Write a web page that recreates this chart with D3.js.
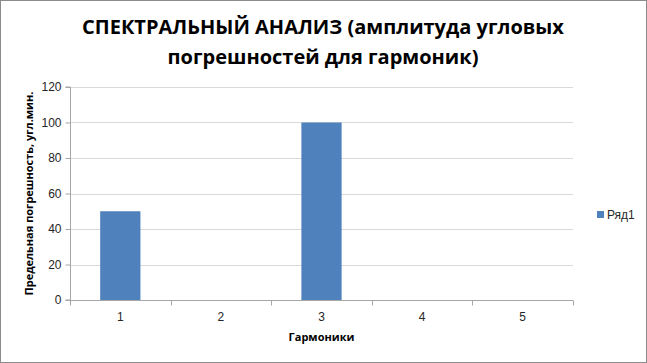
<!DOCTYPE html>
<html>
<head>
<meta charset="utf-8">
<script src="https://cdn.jsdelivr.net/npm/d3@7"></script>
<style>
  body { margin: 0; background: #fff; }
  svg { display: block; }
</style>
</head>
<body>
<div id="chart"></div>
<script>
// chart values
const categories = ["1", "2", "3", "4", "5"];
const values = [50, 0, 100, 0, 0];
const yTicks = [0, 20, 40, 60, 80, 100, 120];
const seriesName = "Ряд1";
const titleLines = ["СПЕКТРАЛЬНЫЙ АНАЛИЗ (амплитуда угловых", "погрешностей для гармоник)"];
const xTitle = "Гармоники";
const yTitle = "Предельная погрешность, угл.мин.";

const width = 647, height = 363;
const margin = { top: 87, right: 74, bottom: 63, left: 70 };
const barColor = "#4f81bd";

const svg = d3.select("#chart").append("svg")
  .attr("width", width)
  .attr("height", height);

// outer frame
svg.append("rect")
  .attr("x", 0.5).attr("y", 0.5)
  .attr("width", width - 1).attr("height", height - 1)
  .attr("fill", "#fff")
  .attr("stroke", "#8c8c8c");

const x = d3.scaleBand()
  .domain(categories)
  .range([margin.left, width - margin.right])
  .paddingInner(0.6)
  .paddingOuter(0.3);

const xEdge = d3.scaleLinear()
  .domain([0, categories.length])
  .range([margin.left, width - margin.right]);

const y = d3.scaleLinear()
  .domain([0, 120])
  .range([height - margin.bottom, margin.top]);

// gridlines
svg.append("g")
  .selectAll("line")
  .data(yTicks.filter(d => d > 0))
  .enter().append("line")
  .attr("x1", margin.left).attr("x2", width - margin.right)
  .attr("y1", d => Math.round(y(d)) + 0.5)
  .attr("y2", d => Math.round(y(d)) + 0.5)
  .attr("stroke", "#d9d9d9");

// bars
svg.append("g")
  .selectAll("rect")
  .data(values)
  .enter().append("rect")
  .attr("x", (d, i) => x(categories[i]))
  .attr("y", d => y(d))
  .attr("width", x.bandwidth())
  .attr("height", d => y(0) - y(d))
  .attr("fill", barColor);

// y axis
const yAxis = svg.append("g")
  .attr("transform", "translate(" + (margin.left + 0.5) + ",0)")
  .call(d3.axisLeft(y).tickValues(yTicks).tickSize(5).tickPadding(4));
yAxis.selectAll("text")
  .attr("font-family", "Liberation Sans, Arial, sans-serif")
  .attr("font-size", 12)
  .attr("fill", "#262626");

// x axis
const xAxis = svg.append("g")
  .attr("transform", "translate(0," + (Math.round(y(0)) + 0.5) + ")")
  .call(d3.axisBottom(x).tickSize(0).tickPadding(12));
xAxis.selectAll("text")
  .attr("font-family", "Liberation Sans, Arial, sans-serif")
  .attr("font-size", 12)
  .attr("fill", "#262626");
xAxis.selectAll(".edge")
  .data(d3.range(categories.length + 1))
  .enter().append("line")
  .attr("class", "edge")
  .attr("x1", d => Math.round(xEdge(d)) + 0.5)
  .attr("x2", d => Math.round(xEdge(d)) + 0.5)
  .attr("y1", 0).attr("y2", 5)
  .attr("stroke", "#a6a6a6");

svg.selectAll(".domain").attr("stroke", "#a6a6a6");
yAxis.selectAll(".tick line").attr("stroke", "#a6a6a6");
yAxis.select(".domain").attr("d", "M-5," + y(120) + "H0V" + y(0) + "H-5");
xAxis.select(".domain").attr("d", "M" + margin.left + ",0H" + (width - margin.right));

// title
svg.append("g")
  .selectAll("text")
  .data(titleLines)
  .enter().append("text")
  .attr("x", 323)
  .attr("y", (d, i) => 34 + i * 30)
  .attr("text-anchor", "middle")
  .attr("font-family", "Open Sans, sans-serif")
  .attr("font-weight", "bold")
  .attr("font-size", 20)
  .attr("fill", "#000")
  .text(d => d);

// axis titles
svg.append("text")
  .attr("x", (margin.left + width - margin.right) / 2)
  .attr("y", 341)
  .attr("text-anchor", "middle")
  .attr("font-family", "Open Sans, sans-serif")
  .attr("font-weight", "bold")
  .attr("font-size", 11)
  .text(xTitle);

svg.append("text")
  .attr("transform", "translate(33," + (y(60)) + ") rotate(-90)")
  .attr("text-anchor", "middle")
  .attr("font-family", "Open Sans, sans-serif")
  .attr("font-weight", "bold")
  .attr("font-size", 11)
  .text(yTitle);

// legend
const legend = svg.append("g").attr("transform", "translate(597,215)");
legend.append("rect")
  .attr("x", 0).attr("y", -4)
  .attr("width", 7).attr("height", 7)
  .attr("fill", barColor);
legend.append("text")
  .attr("x", 10).attr("y", 4)
  .attr("font-family", "Liberation Sans, Arial, sans-serif")
  .attr("font-size", 12)
  .attr("fill", "#262626")
  .text(seriesName);
</script>
</body>
</html>
